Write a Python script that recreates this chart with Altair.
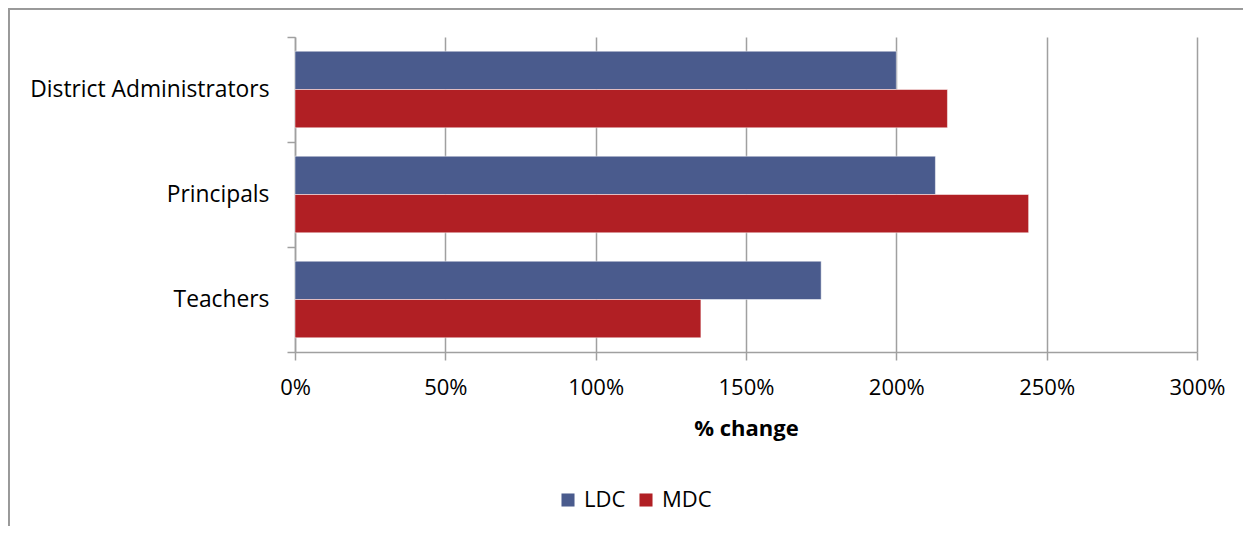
import altair as alt
import pandas as pd

categories = ["District Administrators", "Principals", "Teachers"]
series = ["LDC", "MDC"]
ldc_values = [2.00, 2.13, 1.75]
mdc_values = [2.17, 2.44, 1.35]
x_ticks = [0, 0.5, 1.0, 1.5, 2.0, 2.5, 3.0]
colors = ["#4A5B8D", "#B11F24"]

rows = []
for c, l, m in zip(categories, ldc_values, mdc_values):
    rows.append({"group": c, "series": "LDC", "value": l})
    rows.append({"group": c, "series": "MDC", "value": m})
df = pd.DataFrame(rows)

FONT = "Open Sans"
FS = 22
W, H = 902, 315
PL, PT, PR, PB = 287, 29, 46, 174

bars = alt.Chart(df).mark_bar(strokeWidth=1, strokeOpacity=0.5, stroke="#ffffff").encode(
    x=alt.X("value:Q",
            scale=alt.Scale(domain=[0, 3], nice=False),
            axis=alt.Axis(values=x_ticks, format=".0%", title="% change",
                          titleFontWeight="bold", titleFontSize=FS, titleFont=FONT,
                          titlePadding=20,
                          labelFont=FONT, labelFontSize=FS, labelColor="#000000",
                          labelFlush=False, labelAlign="center", labelBound=False,
                          labelPadding=17, tickSize=8, tickColor="#a0a0a0",
                          domainColor="#a0a0a0", domainWidth=1.5, tickWidth=1.5,
                          grid=True, gridColor="#a0a0a0", gridWidth=1.5,
                          titleColor="#000000")),
    y=alt.Y("group:N", sort=categories,
            scale=alt.Scale(paddingInner=0, paddingOuter=0),
            axis=alt.Axis(title=None, labelFont=FONT, labelFontSize=FS + 0.8,
                          labelColor="#000000", labelPadding=18, labelLimit=400,
                          tickSize=8,
                          tickBand="extent", tickColor="#a0a0a0", tickWidth=1.5,
                          domainColor="#a0a0a0", domainWidth=1.5, grid=False)),
    yOffset=alt.YOffset("series:N", sort=series,
                        scale=alt.Scale(paddingInner=0, paddingOuter=0.37)),
    color=alt.Color("series:N", sort=series,
                    scale=alt.Scale(domain=series, range=colors),
                    legend=alt.Legend(title=None, orient="none", direction="horizontal",
                                      legendX=262, legendY=452,
                                      symbolType="square", symbolSize=170,
                                      symbolStrokeWidth=0,
                                      labelFont=FONT, labelFontSize=FS,
                                      labelColor="#000000", labelOffset=5,
                                      columnPadding=9)),
)

frame_left = alt.Chart(df).mark_rule(color="#999999", strokeWidth=1.5).encode(
    x=alt.value(-PL + 0.75), y=alt.value(-PT + 0.75), y2=alt.value(H + PB)
)
frame_top = alt.Chart(df).mark_rule(color="#999999", strokeWidth=1.5).encode(
    x=alt.value(-PL + 0.75), x2=alt.value(W + PR), y=alt.value(-PT + 0.75)
)

chart = alt.layer(bars, frame_left, frame_top).properties(
    width=W, height=H,
    autosize=alt.AutoSizeParams(type="none"),
    padding={"left": PL, "top": PT, "right": PR, "bottom": PB},
).configure(background="#ffffff").configure_view(stroke="transparent", strokeWidth=0)

chart.save("out.html", embed_options={"renderer": "svg", "actions": False})
